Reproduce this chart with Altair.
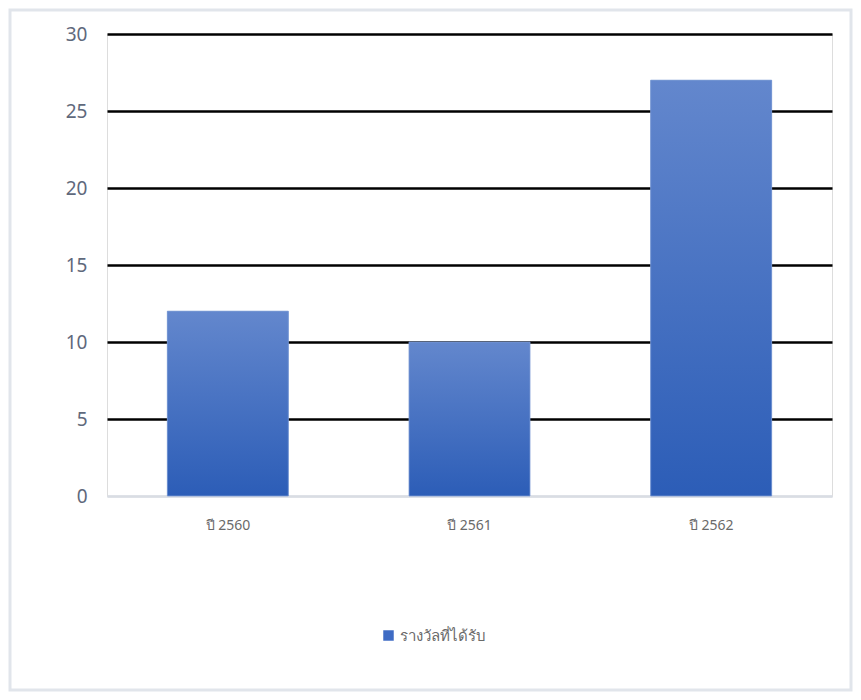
import altair as alt
import pandas as pd

categories = ["ปี 2560", "ปี 2561", "ปี 2562"]
values = [12, 10, 27]
series_name = "รางวัลที่ได้รับ"

df = pd.DataFrame({"cat": categories, "value": values, "series": [series_name] * 3})

W, H = 725, 462
PL, PT, PR, PB = 99, 26, 21, 196

grad = alt.Gradient(
    gradient="linear",
    stops=[alt.GradientStop(color="#6387cd", offset=0),
           alt.GradientStop(color="#2c5db7", offset=1)],
    x1=0, x2=0, y1=0, y2=1,
)

x_enc = alt.X("cat:N", sort=categories, title=None,
              scale=alt.Scale(paddingInner=0.5, paddingOuter=0.25),
              axis=alt.Axis(labelAngle=0, labelFontSize=14, labelColor="#6a6a6a",
                            labelPadding=22, ticks=False, domainColor="#d9dde3",
                            domainWidth=2, labelFont="Noto Sans"))
y_enc = alt.Y("value:Q", title=None,
              scale=alt.Scale(domain=[0, 30]),
              axis=alt.Axis(values=[0, 5, 10, 15, 20, 25, 30], labelFontSize=19,
                            labelColor="#5f697c", labelPadding=20, ticks=False,
                            domain=False,
                            gridColor=alt.condition("datum.value == 0", alt.value("#d9dde3"), alt.value("black")),
                            gridWidth=2.5, labelFont="Noto Sans"))

base_bars = alt.Chart(df).mark_bar(size=121).encode(
    x=x_enc, y=y_enc,
    color=alt.Color("series:N", title=None,
                    scale=alt.Scale(range=["#3e6bc4"]),
                    legend=alt.Legend(orient="none", legendX=274, legendY=594,
                                      symbolType="square", symbolSize=110,
                                      symbolStrokeWidth=0,
                                      labelFontSize=15, labelColor="#6a6a6a",
                                      labelFont="Noto Sans")),
)

grad_bars = alt.Chart(df).mark_bar(size=121, fill=grad, stroke="#7b9ad4", strokeWidth=0.8).encode(
    x=alt.X("cat:N", sort=categories), y=alt.Y("value:Q"),
)

frame = alt.Chart(pd.DataFrame({"a": [0]})).mark_rect(
    fill=None, stroke="#e1e5eb", strokeWidth=3
).encode(
    x=alt.value(-PL + 2), x2=alt.value(W + PR - 2),
    y=alt.value(-PT + 2), y2=alt.value(H + PB - 2),
)

chart = alt.layer(frame, base_bars, grad_bars).properties(
    width=W, height=H,
    autosize=alt.AutoSizeParams(type="none"),
    padding={"left": PL, "top": PT, "right": PR, "bottom": PB},
).configure_view(stroke=None).configure(background="white")

chart.save("out.html", embed_options={"renderer": "svg", "actions": False})
